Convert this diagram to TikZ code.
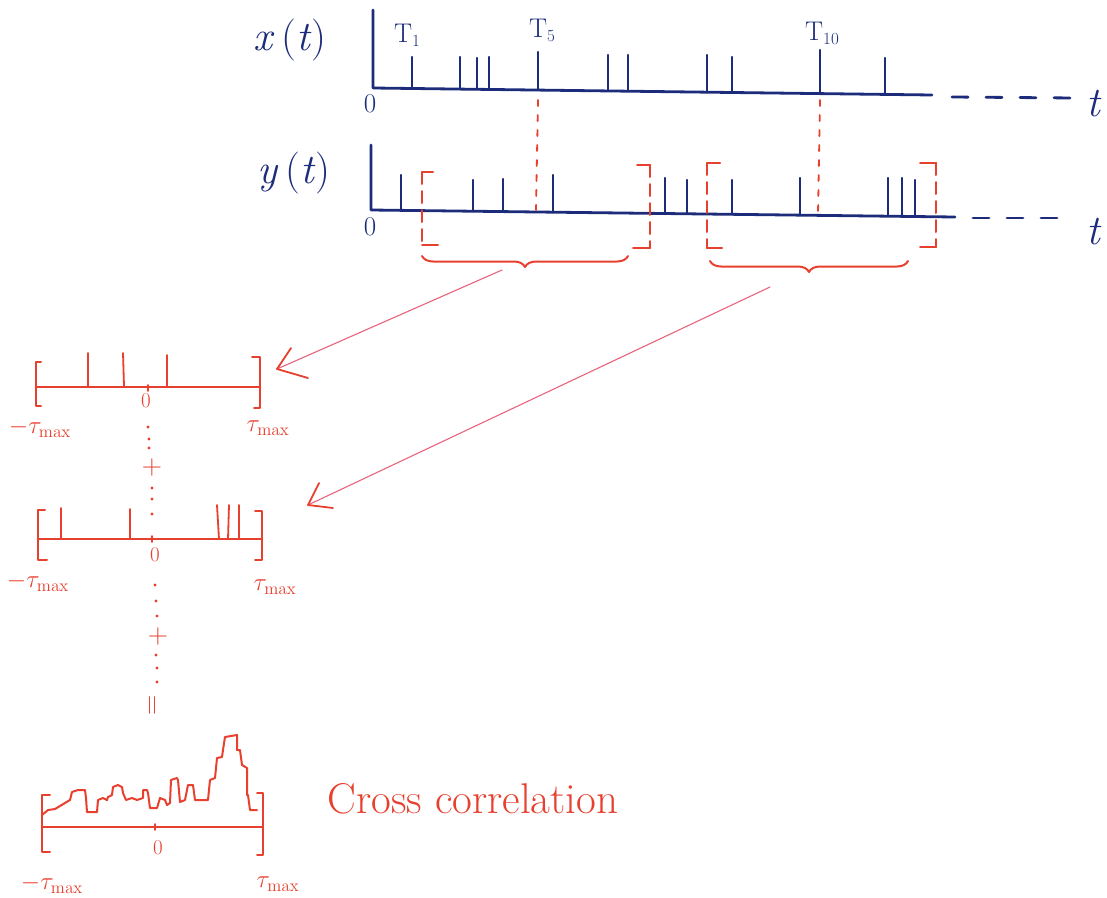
\documentclass[tikz,border=0pt]{standalone}
\usetikzlibrary{decorations.pathreplacing}
\definecolor{ink}{HTML}{1C2C7A}
\definecolor{pen}{HTML}{E8402F}
\definecolor{thinpen}{HTML}{E8647E}
\newcommand{\lowsub}[1]{\raisebox{-0.35ex}{\fontsize{17}{17}\selectfont #1}}
\newcommand{\taumax}{$\tau_{\mathrm{max}}$}
\begin{document}
\begin{tikzpicture}[x=1pt,y=-1pt,line cap=round,line join=round,
  axisline/.style={draw=ink,line width=2.8pt},
  spike/.style={draw=ink,line width=2.3pt},
  tail/.style={draw=ink,line width=2.8pt,dash pattern=on 16pt off 18pt},
  redaxis/.style={draw=pen,line width=2pt},
  redspike/.style={draw=pen,line width=1.8pt},
  guide/.style={draw=pen,line width=1.8pt,dash pattern=on 6pt off 9pt},
  window/.style={draw=pen,line width=2pt,dash pattern=on 12pt off 7pt},
  bracket/.style={draw=pen,line width=2pt},
  brace/.style={draw=pen,line width=2pt,decorate,decoration={brace,amplitude=11pt,mirror}},
  pointer/.style={draw=thinpen,line width=1.1pt},
  barb/.style={draw=pen,line width=1.8pt},
  bluetext/.style={text=ink,inner sep=0pt,font=\fontsize{42}{46}\selectfont},
  bluesmall/.style={text=ink,inner sep=0pt,font=\fontsize{27}{29}\selectfont},
  redtext/.style={text=pen,inner sep=0pt,font=\fontsize{20}{22}\selectfont,scale=1.2},
  redzero/.style={text=pen,inner sep=0pt,font=\fontsize{21}{22}\selectfont},
  redop/.style={text=pen,inner sep=0pt,font=\fontsize{28}{28}\selectfont},
  reddot/.style={fill=pen,draw=none},
]
\useasboundingbox (0,0) rectangle (1107,897);
\fill[white] (0,0) rectangle (1107,897);

% ---------- x(t) ----------
\node[bluetext] (xlab) at (290,40) {\textit{x}\,(\textit{t})};
\draw[axisline] (373,10) -- (373,88) -- (932,95);
\draw[tail] (952,97) -- (1075,98);
\node[bluetext] (xt) at (1094,104) {\textit{t}};
\node[bluesmall] (x0) at (370,104) {0};
\foreach \px/\top in {412/57,460/57,477/58,489/57,538/52,608/55,628/55,707/55,732/57,820/50,885/58}{
  \pgfmathsetmacro\base{88+(\px-373)*0.0125}
  \draw[spike] (\px,\top) -- (\px,\base);
}
\node[bluesmall] (T1) at (407,35) {T\lowsub{1}};
\node[bluesmall] (T5) at (542,30) {T\lowsub{5}};
\node[bluesmall] (T10) at (822,33) {T\lowsub{10}};

% ---------- y(t) ----------
\node[bluetext] (ylab) at (294,173) {\textit{y}\,(\textit{t})};
\draw[axisline] (371,145) -- (371,210) -- (955,217);
\draw[tail] (973,218) -- (1060,218);
\node[bluetext] (yt) at (1094,232) {\textit{t}};
\node[bluesmall] (y0) at (370,227) {0};
\foreach \px/\top in {401/175,473/180,503/179,553/175,665/178,687/180,732/180,800/178,888/178,902/178,915/180}{
  \pgfmathsetmacro\base{210+(\px-371)*0.012}
  \draw[spike] (\px,\top) -- (\px,\base);
}

% guides from T5 and T10 down to y(t)
\draw[guide] (538,100) -- (536,210);
\draw[guide] (820,100) -- (818,214);

% lag windows on y(t)
\draw[window] (422,172) -- (422,245);
\draw[bracket] (433,172) -- (422,172);
\draw[bracket] (422,245) -- (438,245);
\draw[window] (650,165) -- (650,248);
\draw[bracket] (637,165) -- (650,165);
\draw[bracket] (633,248) -- (650,248);
\draw[window] (707,163) -- (707,248);
\draw[bracket] (720,163) -- (707,163);
\draw[bracket] (707,248) -- (722,248);
\draw[window] (936,163) -- (936,247);
\draw[bracket] (920,163) -- (936,163);
\draw[bracket] (920,247) -- (936,247);

\draw[brace] (422,256) -- (628,256);
\draw[brace] (710,261) -- (908,261);

% pointers to the stacked windows
\coordinate (s1) at (502,270);
\coordinate (e1) at (277,369);
\coordinate (s2) at (770,287);
\coordinate (e2) at (308,505);
\draw[pointer] (s1) -- (e1);
\draw[barb] (291,348) -- (e1) -- (308,378);
\draw[pointer] (s2) -- (e2);
\draw[barb] (319,483) -- (e2) -- (333,508);

% ---------- window 1 ----------
\draw[redaxis] (37,387) -- (260,387);
\draw[bracket] (41,362) -- (36,362) -- (36,406) -- (41,406);
\draw[bracket] (252,357) -- (260,357) -- (260,408) -- (254,408);
\draw[redspike] (88,353) -- (88,387);
\draw[redspike] (123,353) -- (124,386);
\draw[redspike] (167,355) -- (167,387);
\draw[redspike] (148,385) -- (148,391);
\node[redzero] (w1zero) at (146,401) {0};
\node[redtext] (w1l) at (40,428) {$-$\taumax};
\node[redtext] (w1r) at (268,428) {\taumax};

% ---------- window 2 ----------
\draw[redaxis] (38,539) -- (261,539);
\draw[bracket] (45,510) -- (38,510) -- (38,560) -- (47,560);
\draw[bracket] (255,511) -- (262,511) -- (262,560) -- (255,560);
\draw[redspike] (61,508) -- (61,539);
\draw[redspike] (130,509) -- (130,539);
\draw[redspike] (217,505) -- (219,539);
\draw[redspike] (229,505) -- (228,539);
\draw[redspike] (239,505) -- (239,539);
\draw[redspike] (152,536) -- (152,542);
\node[redzero] (w2zero) at (155,555) {0};
\node[redtext] (w2l) at (38,582) {$-$\taumax};
\node[redtext] (w2r) at (275,587) {\taumax};

% ---------- summation column ----------
\foreach \dx/\dy in {148/427,149/439,149/448,152/488,152/499,152/514,155/585,156/601,157/616,156/655,157/668,157/682}
  \fill[reddot] (\dx,\dy) circle (1.7);
\node[redop] (plus1) at (152,468) {+};
\node[redop] (plus2) at (158,637) {+};
\node[redop,rotate=90] (eq) at (155,705) {=};

% ---------- window 3: the sum ----------
\draw[redaxis] (42,827) -- (263,827);
\draw[bracket] (50,795) -- (42,795) -- (42,852) -- (50,852);
\draw[bracket] (257,793) -- (263,793) -- (263,855) -- (257,855);
\draw[redspike] (155,824) -- (155,830);
\draw[bracket] (42,815) -- (48,810) -- (55,809) -- (60,806) -- (65,803) -- (70,800)
  -- (72,792) -- (78,790) -- (85,790) -- (86,798) -- (87,812) -- (97,812)
  -- (98,800) -- (103,798) -- (107,800) -- (108,797) -- (112,795) -- (113,787)
  -- (118,785) -- (122,787) -- (123,793) -- (126,800) -- (132,798) -- (137,800)
  -- (143,798) -- (143,790) -- (147,790) -- (148,793) -- (150,808) -- (157,808)
  -- (160,798) -- (165,800) -- (167,805) -- (170,803) -- (171,780) -- (177,778)
  -- (178,780) -- (180,802) -- (185,800) -- (188,785) -- (193,785) -- (195,800)
  -- (208,800) -- (210,780) -- (215,778) -- (217,758) -- (222,757) -- (223,750)
  -- (225,737) -- (237,735) -- (237,750) -- (240,750) -- (242,765) -- (247,768)
  -- (247,795) -- (248,795) -- (250,810) -- (257,810);
\node[redzero] (w3zero) at (158,848) {0};
\node[redtext] (w3l) at (52,884) {$-$\taumax};
\node[redtext] (w3r) at (278,884) {\taumax};
\node[text=pen,inner sep=0pt,font=\fontsize{43}{46}\selectfont] (cc) at (473,799) {Cross correlation};
\end{tikzpicture}
\end{document}
